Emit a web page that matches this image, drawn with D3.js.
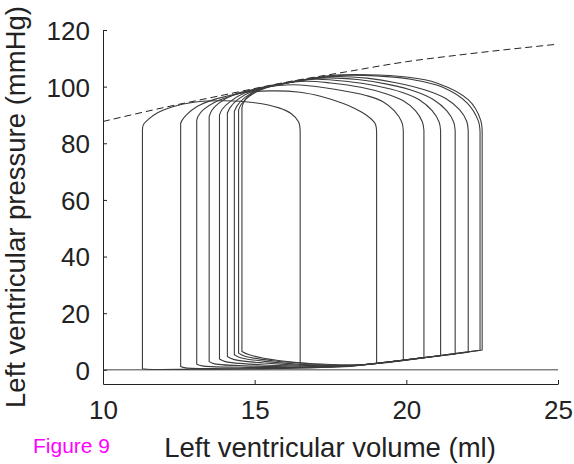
<!DOCTYPE html>
<html>
<head>
<meta charset="utf-8">
<script src="https://cdn.jsdelivr.net/npm/d3@7"></script>
<style>
  body { margin: 0; background: #fff; }
  svg { display: block; font-family: "Liberation Sans", Arial, Helvetica, sans-serif; }
  .axis path, .axis line { stroke: #222; stroke-width: 1; }
  .axis text { fill: #222; font-size: 26px; }
</style>
</head>
<body>
<div id="chart"></div>
<script>
// end-systolic / end-diastolic volume of each beat (ml)
const esv = [11.3, 12.56, 13.09, 13.5, 13.84, 14.1, 14.33, 14.47, 14.58];
const edv = [16.5, 19.02, 19.9, 20.58, 21.13, 21.61, 22.04, 22.43, 22.5];

// filling phase of each loop, [volume, pressure], left to right
const loopBottoms = [
  [[11.3,0.4],[11.45,0.2],[13.0,0.2],[15.0,0.4],[16.0,0.7],[16.5,1.0]],
  [[12.56,1.2],[12.72,0.7],[14.0,0.4],[16.0,0.5],[17.5,0.9],[18.3,1.4],[19.02,2.3]],
  [[13.09,2.0],[13.27,1.4],[14.5,0.9],[16.0,0.8],[17.5,1.0],[18.3,1.5],[19.0,2.3],[19.9,3.4]],
  [[13.5,2.9],[13.68,2.1],[15.0,1.3],[16.5,1.0],[17.6,1.1],[18.4,1.6],[19.0,2.3],[19.9,3.4],[20.58,4.3]],
  [[13.84,3.8],[14.03,2.9],[15.2,1.8],[16.6,1.3],[17.7,1.2],[18.5,1.7],[19.3,2.6],[20.2,3.8],[21.13,5.0]],
  [[14.1,4.7],[14.3,3.7],[15.3,2.4],[16.6,1.6],[17.8,1.3],[18.6,1.8],[19.5,2.9],[20.6,4.3],[21.61,5.6]],
  [[14.33,5.3],[14.53,4.3],[15.5,2.8],[16.6,1.9],[17.9,1.4],[18.7,1.9],[19.6,3.0],[20.8,4.6],[22.04,6.2]],
  [[14.47,5.9],[14.68,4.8],[15.6,3.2],[16.7,2.2],[18.0,1.5],[18.8,2.0],[19.7,3.1],[21.0,4.9],[22.43,6.9]],
  [[14.58,6.5],[14.8,5.4],[15.3,4.1],[16.4,2.6],[17.5,1.9],[18.4,1.8],[19.2,2.4],[20.2,3.7],[21.3,5.3],[22.5,7.0]]
];

// ejection phase of each loop, [volume, pressure], right to left
const loopTops = [
  [[16.5,84],[16.45,87.5],[16.2,90.5],[15.8,92.5],[15.0,94.3],[14.0,95.0],[13.0,94.5],[12.3,92.9],[11.8,90.8],[11.5,88.5],[11.33,86.5],[11.3,84.7]],
  [[19.02,84],[18.97,87],[18.7,89.8],[18.3,92.3],[17.9,94.1],[17.2,96.5],[16.5,98.0],[15.5,98.5],[14.5,97.6],[13.7,95.6],[13.1,93.0],[12.75,90],[12.6,88],[12.56,87]],
  [[19.9,84.5],[19.85,87.5],[19.6,91.5],[19.23,94.7],[18.7,96.8],[18.1,98.2],[17.2,99.8],[16.5,100.6],[15.8,100.4],[15.0,99.0],[14.3,97.0],[13.7,94.6],[13.3,91.8],[13.14,89.6],[13.09,88.2]],
  [[20.58,84.5],[20.53,87.5],[20.3,91.5],[19.9,95],[19.3,97.6],[18.5,99.8],[17.5,101.3],[16.7,101.9],[15.8,100.9],[15.0,99.1],[14.3,97.1],[13.8,94.0],[13.58,91.5],[13.5,89.4]],
  [[21.13,84.5],[21.08,87.5],[20.85,91.5],[20.45,95.2],[19.85,98],[19.0,100.3],[18.0,101.9],[17.0,102.6],[16.2,101.6],[15.4,99.9],[14.7,97.9],[14.2,94.8],[13.93,92],[13.84,90]],
  [[21.61,84.5],[21.56,87.5],[21.33,91.5],[20.9,95.4],[20.3,98.3],[19.4,100.8],[18.4,102.5],[17.4,103.1],[16.6,102.4],[15.8,100.8],[15.0,98.7],[14.45,95.5],[14.19,92.6],[14.1,90.6]],
  [[22.04,84.5],[21.99,87.8],[21.76,91.8],[21.3,95.8],[20.6,98.9],[19.7,101.3],[18.7,103.0],[17.7,103.6],[16.8,102.8],[16.0,101.2],[15.2,99.2],[14.68,96.2],[14.42,93.2],[14.33,91.2]],
  [[22.43,84],[22.37,88],[22.0,94.3],[21.2,99.8],[20.2,102.5],[19.0,103.8],[18.0,104.0],[17.0,103.0],[16.2,101.6],[15.4,99.7],[14.82,96.6],[14.56,93.8],[14.47,91.8]],
  [[22.5,82.4],[22.45,88.2],[22.05,95.3],[21.0,101.3],[20.0,103.4],[18.7,104.2],[17.5,103.9],[16.6,102.4],[15.85,100.8],[15.07,98.6],[14.75,96.2],[14.62,94],[14.58,92.4]]
];

// end-systolic pressure-volume relation (dashed)
const espvrVolume = [10, 12, 14, 16, 18, 20, 22, 25];
const espvrPressure = [87.7, 92.6, 97.1, 101.5, 105.2, 108.8, 111.5, 115];

const xTicks = [10, 15, 20, 25];
const yTicks = [0, 20, 40, 60, 80, 100, 120];

const width = 574, height = 464;

const svg = d3.select("#chart").append("svg")
  .attr("width", width)
  .attr("height", height);

const x = d3.scaleLinear().domain([10, 25]).range([103, 558]);
const y = d3.scaleLinear().domain([-5, 120]).range([384, 30]);

// axes, ticks pointing inward like the original
svg.append("g")
  .attr("class", "axis")
  .attr("transform", "translate(0,384)")
  .call(d3.axisBottom(x).tickValues(xTicks).tickSizeInner(-4).tickSizeOuter(0).tickPadding(16.5))
  .call(g => g.selectAll("text").attr("font-size", 26));

svg.append("g")
  .attr("class", "axis")
  .attr("transform", "translate(103,0)")
  .call(d3.axisLeft(y).tickValues(yTicks).tickSizeInner(-4).tickSizeOuter(0).tickPadding(13))
  .call(g => g.selectAll("text").attr("font-size", 26).attr("dy", "0.36em"));

// zero pressure line
svg.append("line")
  .attr("x1", x(10)).attr("x2", x(25))
  .attr("y1", y(0)).attr("y2", y(0))
  .attr("stroke", "#444")
  .attr("stroke-width", 1);

// ESPVR
const espvr = espvrVolume.map((v, i) => [v, espvrPressure[i]]);
svg.append("path")
  .attr("d", d3.line().x(d => x(d[0])).y(d => y(d[1])).curve(d3.curveMonotoneX)(espvr))
  .attr("fill", "none")
  .attr("stroke", "#222")
  .attr("stroke-width", 1)
  .attr("stroke-dasharray", "7,4");

// loops: smooth filling + ejection, straight isovolumic sides
const smooth = d3.line().x(d => x(d[0])).y(d => y(d[1])).curve(d3.curveCatmullRom.alpha(0.5));

svg.append("g")
  .selectAll("path")
  .data(esv.map((v, i) => ({ esv: v, edv: edv[i], bottom: loopBottoms[i], top: loopTops[i] })))
  .join("path")
  .attr("d", d => smooth(d.bottom) + smooth(d.top).replace(/^M/, "L") + "Z")
  .attr("fill", "none")
  .attr("stroke", "#3c3c3c")
  .attr("stroke-width", 1.1);

// labels
svg.append("text")
  .attr("x", 330)
  .attr("y", 457)
  .attr("text-anchor", "middle")
  .attr("font-size", 27.5)
  .attr("fill", "#222")
  .text("Left ventricular volume (ml)");

svg.append("text")
  .attr("transform", "translate(25,207) rotate(-90)")
  .attr("text-anchor", "middle")
  .attr("font-size", 27.5)
  .attr("fill", "#222")
  .text("Left ventricular pressure (mmHg)");

svg.append("text")
  .attr("x", 33)
  .attr("y", 453)
  .attr("font-size", 21)
  .attr("fill", "#ff00ff")
  .text("Figure 9");
</script>
</body>
</html>
